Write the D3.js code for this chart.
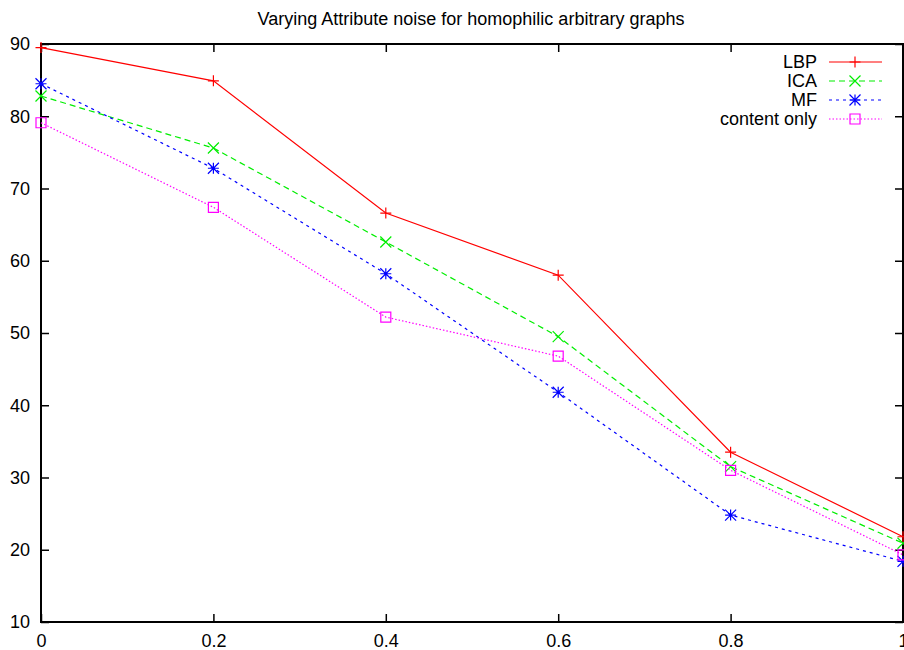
<!DOCTYPE html>
<html>
<head>
<meta charset="utf-8">
<script src="https://cdn.jsdelivr.net/npm/d3@7"></script>
<style>
  body { margin: 0; background: #fff; }
  svg { display: block; font-family: "Liberation Sans", Arial, sans-serif; }
</style>
</head>
<body>
<div id="chart"></div>
<script>
var noise = [0, 0.2, 0.4, 0.6, 0.8, 1];
var lbp = [89.5, 84.9, 66.6, 58.0, 33.5, 21.8];
var ica = [82.8, 75.6, 62.6, 49.5, 31.5, 20.9];
var mf = [84.5, 72.8, 58.2, 41.8, 24.8, 18.4];
var contentOnly = [79.1, 67.4, 52.2, 46.8, 31.0, 19.3];
var xTicks = [0, 0.2, 0.4, 0.6, 0.8, 1];
var yTicks = [10, 20, 30, 40, 50, 60, 70, 80, 90];

var series = [
  { name: "LBP", values: lbp, color: "#ff0000", dash: null, mark: "plus" },
  { name: "ICA", values: ica, color: "#00ee00", dash: "6,4", mark: "cross" },
  { name: "MF", values: mf, color: "#0000ff", dash: "3,4", mark: "star" },
  { name: "content only", values: contentOnly, color: "#ff00ff", dash: "1.5,2", mark: "box" }
];

var width = 904, height = 650;
var plotLeft = 41, plotRight = 903, plotTop = 44, plotBottom = 622;

var svg = d3.select("#chart").append("svg")
  .attr("width", width)
  .attr("height", height);

var x = d3.scaleLinear().domain([0, 1]).range([plotLeft, plotRight]);
var y = d3.scaleLinear().domain([10, 90]).range([plotBottom, plotTop]);

// title
svg.append("text")
  .attr("x", 471)
  .attr("y", 25)
  .attr("text-anchor", "middle")
  .attr("font-size", 18)
  .text("Varying Attribute noise for homophilic arbitrary graphs");

// axes, ticks inward like gnuplot
svg.append("g")
  .attr("transform", "translate(" + plotLeft + ",0)")
  .call(d3.axisLeft(y).tickValues(yTicks).tickSizeInner(-8).tickSizeOuter(0).tickPadding(11).tickFormat(d3.format("d")));
svg.append("g")
  .attr("transform", "translate(0," + plotBottom + ")")
  .call(d3.axisBottom(x).tickValues(xTicks).tickSizeInner(-8).tickSizeOuter(0).tickPadding(12)
    .tickFormat(function(d) { return d === 0 ? "0" : d === 1 ? "1" : d3.format(".1f")(d); }));

// mirrored ticks on top and right
svg.append("g")
  .attr("transform", "translate(0," + plotTop + ")")
  .call(d3.axisTop(x).tickValues(xTicks).tickSizeInner(-8).tickSizeOuter(0).tickFormat(""));
svg.append("g")
  .attr("transform", "translate(" + plotRight + ",0)")
  .call(d3.axisRight(y).tickValues(yTicks).tickSizeInner(-8).tickSizeOuter(0).tickFormat(""));

svg.selectAll(".domain").remove();
svg.selectAll(".tick line").attr("stroke", "#000").attr("stroke-width", 1.5);
svg.selectAll(".tick text").attr("font-size", 18).attr("fill", "#000")
  .attr("font-family", "Liberation Sans, Arial, sans-serif");

// frame
svg.append("rect")
  .attr("x", plotLeft).attr("y", plotTop)
  .attr("width", plotRight - plotLeft).attr("height", plotBottom - plotTop)
  .attr("fill", "none").attr("stroke", "#000").attr("stroke-width", 2);

function marker(g, kind, cx, cy, color) {
  var s = 5.5;
  var p;
  if (kind === "plus") {
    p = "M" + (cx - s) + "," + cy + "H" + (cx + s) + "M" + cx + "," + (cy - s) + "V" + (cy + s);
  } else if (kind === "cross") {
    p = "M" + (cx - s) + "," + (cy - s) + "L" + (cx + s) + "," + (cy + s) +
        "M" + (cx - s) + "," + (cy + s) + "L" + (cx + s) + "," + (cy - s);
  } else if (kind === "star") {
    p = "M" + (cx - s) + "," + cy + "H" + (cx + s) + "M" + cx + "," + (cy - s) + "V" + (cy + s) +
        "M" + (cx - s) + "," + (cy - s) + "L" + (cx + s) + "," + (cy + s) +
        "M" + (cx - s) + "," + (cy + s) + "L" + (cx + s) + "," + (cy - s);
  } else {
    p = "M" + (cx - 5) + "," + (cy - 5) + "h10v10h-10z";
  }
  g.append("path").attr("d", p).attr("fill", "none").attr("stroke", color).attr("stroke-width", 1.2);
}

var line = d3.line()
  .x(function(d, i) { return x(noise[i]); })
  .y(function(d) { return y(d); });

series.forEach(function(s) {
  var g = svg.append("g");
  g.append("path")
    .attr("d", line(s.values))
    .attr("fill", "none")
    .attr("stroke", s.color)
    .attr("stroke-width", 1.2)
    .attr("stroke-dasharray", s.dash);
  s.values.forEach(function(v, i) {
    marker(g, s.mark, x(noise[i]), y(v), s.color);
  });
});

// legend
var legend = svg.append("g");
series.forEach(function(s, i) {
  var ly = 62 + i * 19;
  legend.append("text")
    .attr("x", 817)
    .attr("y", ly)
    .attr("dy", "0.35em")
    .attr("text-anchor", "end")
    .attr("font-size", 18)
    .text(s.name);
  legend.append("line")
    .attr("x1", 829).attr("x2", 882)
    .attr("y1", ly).attr("y2", ly)
    .attr("stroke", s.color)
    .attr("stroke-width", 1.2)
    .attr("stroke-dasharray", s.dash);
  marker(legend, s.mark, 855, ly, s.color);
});
</script>
</body>
</html>
